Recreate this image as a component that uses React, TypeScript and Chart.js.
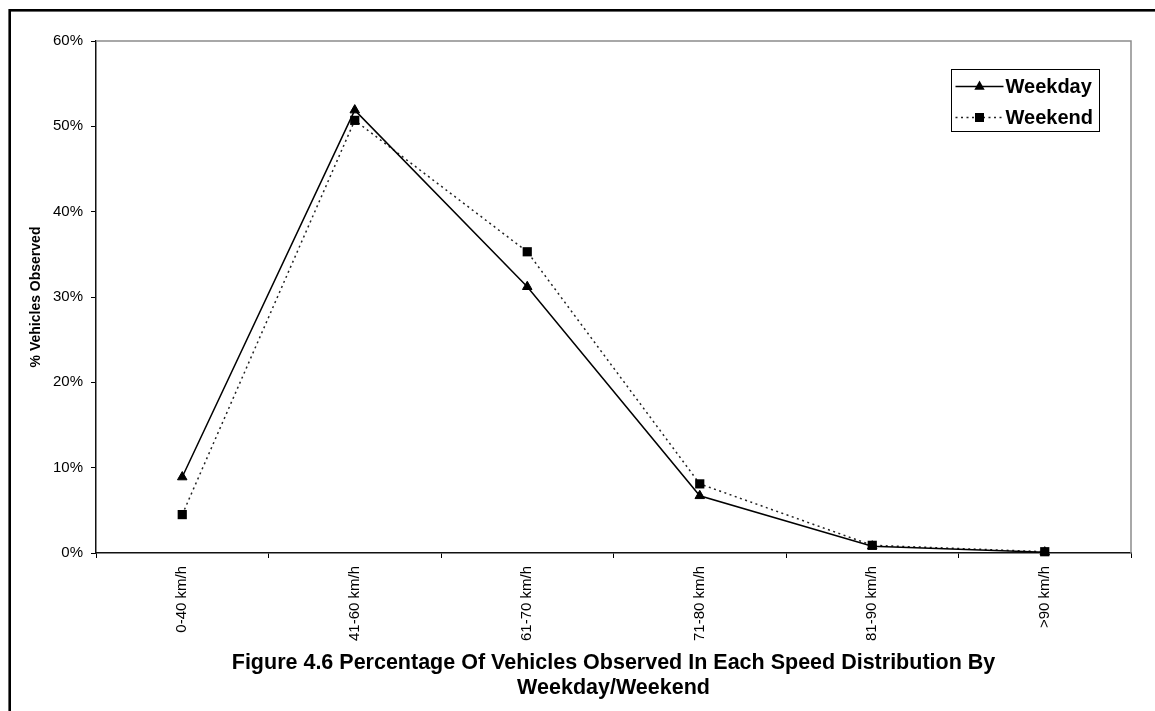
import React, { useEffect, useRef } from "react";
import { Chart, registerables } from "chart.js";

Chart.register(...registerables);

// Speed bands and share of vehicles observed (%)
const speedBands = ["0-40 km/h", "41-60 km/h", "61-70 km/h", "71-80 km/h", "81-90 km/h", ">90 km/h"];
const weekdayShare = [8.9, 51.9, 31.2, 6.7, 0.8, 0.1];
const weekendShare = [4.5, 50.7, 35.3, 8.1, 0.9, 0.15];
const yTicks = [0, 10, 20, 30, 40, 50, 60];
const titleLines = [
  "Figure 4.6 Percentage Of Vehicles Observed In Each Speed Distribution By",
  "Weekday/Weekend",
];
const yTitle = "% Vehicles Observed";

const FONT = '"Liberation Sans", Arial, sans-serif';

// White page, outer frame and grey plot-area border
const framePlugin = {
  id: "frame",
  beforeDraw(chart: any) {
    const { ctx, width, height } = chart;
    ctx.save();
    ctx.fillStyle = "#fff";
    ctx.fillRect(0, 0, width, height);
    ctx.strokeStyle = "#000";
    ctx.lineWidth = 2.6;
    ctx.strokeRect(9.7, 10.3, width + 20, height + 20);
    ctx.restore();
  },
  beforeDatasetsDraw(chart: any) {
    const { ctx, chartArea } = chart;
    ctx.save();
    ctx.strokeStyle = "#8c8c8c";
    ctx.lineWidth = 1.5;
    ctx.beginPath();
    ctx.moveTo(chartArea.left, chartArea.top);
    ctx.lineTo(chartArea.right, chartArea.top);
    ctx.lineTo(chartArea.right, chartArea.bottom);
    ctx.stroke();
    ctx.restore();
  },
};

function drawMarker(ctx: CanvasRenderingContext2D, style: string, x: number, y: number) {
  ctx.beginPath();
  if (style === "triangle") {
    ctx.moveTo(x, y - 6);
    ctx.lineTo(x + 5.2, y + 3.2);
    ctx.lineTo(x - 5.2, y + 3.2);
    ctx.closePath();
  } else {
    ctx.rect(x - 4.5, y - 4.5, 9, 9);
  }
  ctx.fill();
}

// Boxed legend with line samples inside the plot area
const legendBoxPlugin = {
  id: "legendBox",
  afterDraw(chart: any) {
    const { ctx, chartArea } = chart;
    const x0 = Math.round(chartArea.right - 180) + 0.5;
    const y0 = Math.round(chartArea.top + 28) + 0.5;
    const w = 148;
    const h = 62;
    ctx.save();
    ctx.fillStyle = "#fff";
    ctx.fillRect(x0, y0, w, h);
    ctx.strokeStyle = "#000";
    ctx.lineWidth = 1;
    ctx.strokeRect(x0, y0, w, h);
    chart.data.datasets.forEach((ds: any, i: number) => {
      const cy = y0 + 17 + i * 31;
      ctx.strokeStyle = ds.borderColor;
      ctx.lineWidth = ds.borderWidth;
      ctx.setLineDash(ds.borderDash || []);
      ctx.beginPath();
      ctx.moveTo(x0 + 4, cy);
      ctx.lineTo(x0 + 52, cy);
      ctx.stroke();
      ctx.setLineDash([]);
      ctx.fillStyle = ds.pointBackgroundColor;
      drawMarker(ctx, ds.pointStyle, x0 + 28, cy);
      ctx.fillStyle = "#000";
      ctx.font = `bold 20px ${FONT}`;
      ctx.textAlign = "left";
      ctx.textBaseline = "middle";
      ctx.fillText(ds.label, x0 + 54, cy + 1);
    });
    ctx.restore();
  },
};

export default function App() {
  const canvasRef = useRef<HTMLCanvasElement | null>(null);

  useEffect(() => {
    if (!canvasRef.current) return;
    const chart = new Chart(canvasRef.current, {
      type: "line",
      data: {
        labels: speedBands,
        datasets: [
          {
            label: "Weekday",
            data: weekdayShare,
            borderColor: "#000",
            borderWidth: 1.5,
            pointStyle: "triangle",
            pointRadius: 5.5,
            pointBackgroundColor: "#000",
            pointBorderColor: "#000",
            pointBorderWidth: 1,
            tension: 0,
            clip: false,
          } as any,
          {
            label: "Weekend",
            data: weekendShare,
            borderColor: "#222",
            borderWidth: 1.5,
            borderDash: [2, 3.5],
            pointStyle: "rect",
            pointRadius: 6.5,
            pointBackgroundColor: "#000",
            pointBorderColor: "#000",
            pointBorderWidth: 0,
            tension: 0,
            clip: false,
          } as any,
        ],
      },
      options: {
        responsive: false,
        animation: false,
        devicePixelRatio: 1,
        layout: { padding: { top: 41, right: 24, left: 0, bottom: 0 } },
        plugins: {
          legend: { display: false },
          tooltip: { enabled: false },
        },
        scales: {
          x: {
            type: "category",
            offset: true,
            grid: {
              offset: true,
              drawOnChartArea: false,
              drawTicks: true,
              tickLength: 5,
              color: "#000",
              lineWidth: 1,
            },
            border: { color: "#111", width: 1.5 },
            ticks: {
              autoSkip: false,
              minRotation: 90,
              maxRotation: 90,
              padding: 8,
              color: "#000",
              font: { family: FONT, size: 15 },
            },
            title: {
              display: true,
              text: titleLines,
              color: "#000",
              font: { family: FONT, size: 21.5, weight: "bold", lineHeight: 1.17 },
              padding: { top: 0, bottom: 10 },
            },
            afterFit(scale: any) {
              scale.height = 158;
            },
          },
          y: {
            min: 0,
            max: 60,
            afterBuildTicks(scale: any) {
              scale.ticks = yTicks.map((v) => ({ value: v }));
            },
            grid: {
              drawOnChartArea: false,
              drawTicks: true,
              tickLength: 5,
              color: "#000",
              lineWidth: 1,
            },
            border: { color: "#111", width: 1.5 },
            ticks: {
              padding: 8,
              color: "#000",
              font: { family: FONT, size: 15 },
              callback: (v: any) => `${v}%`,
            },
            title: {
              display: true,
              text: yTitle,
              color: "#000",
              font: { family: FONT, size: 14, weight: "bold", lineHeight: 1.2 },
              padding: { top: 28, bottom: 0 },
            },
            afterFit(scale: any) {
              scale.width = 96;
            },
          },
        },
      },
      plugins: [framePlugin, legendBoxPlugin],
    });
    return () => chart.destroy();
  }, []);

  return (
    <div style={{ position: "fixed", left: 0, top: 0, width: 1155, height: 711, background: "#fff" }}>
      <canvas ref={canvasRef} width={1155} height={711} style={{ display: "block" }} />
    </div>
  );
}
